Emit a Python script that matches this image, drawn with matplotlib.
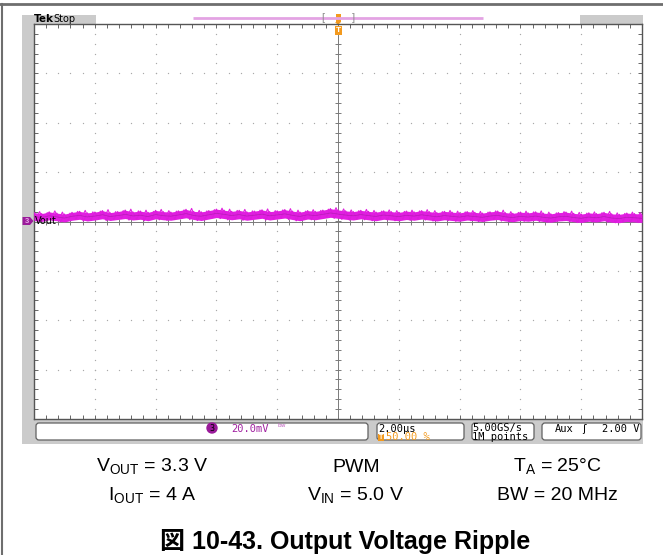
import numpy as np
import matplotlib
matplotlib.use('Agg')
import matplotlib.pyplot as plt
from matplotlib.patches import Rectangle, FancyBboxPatch, Circle, Polygon

plt.rcParams['font.family'] = ['Liberation Sans', 'Noto Sans CJK JP', 'DejaVu Sans']
plt.rcParams['mathtext.fontset'] = 'custom'
plt.rcParams['mathtext.rm'] = 'Liberation Sans'

# scope settings (graticule is 10 x 8 divisions)
volts_per_div = 20.0   # mV/div
n_hdiv = 10
n_vdiv = 8

# Vout ripple band, upper / lower edge in mV, one value every 1/8 division
vout_hi = [3.6, 3.2, 3.9, 3.4, 3.0, 3.7, 4.1, 3.5, 3.8, 4.4, 3.6, 4.0, 4.6, 3.9, 4.2, 3.7,
           4.5, 4.0, 3.8, 4.3, 4.9, 4.1, 3.9, 4.4, 5.0, 4.6, 4.1, 4.5, 3.9, 4.2, 4.7, 4.0,
           4.3, 4.8, 4.2, 3.8, 4.4, 4.1, 4.6, 5.2, 4.7, 4.3, 4.0, 4.5, 4.1, 3.8, 4.3, 4.0,
           3.7, 4.2, 3.9, 4.4, 4.0, 3.6, 4.1, 3.8, 3.5, 4.0, 3.7, 3.4, 3.9, 4.2, 3.6, 3.3,
           3.8, 3.5, 3.9, 3.4, 3.1, 3.6, 3.8, 3.3, 3.0, 3.5, 3.2, 3.7, 3.1, 2.9, 3.4, 3.2, 3.0]
vout_lo = [0.4, 0.0, 0.7, 0.3, -0.2, 0.5, 0.9, 0.2, 0.6, 1.1, 0.4, 0.8, 1.2, 0.6, 0.9, 0.3,
           1.1, 0.7, 0.5, 1.0, 1.5, 0.8, 0.4, 1.0, 1.6, 1.2, 0.7, 1.1, 0.5, 0.9, 1.3, 0.6,
           1.0, 1.4, 0.8, 0.3, 1.0, 0.7, 1.2, 1.7, 1.3, 0.9, 0.6, 1.1, 0.7, 0.3, 0.9, 0.6,
           0.3, 0.8, 0.5, 1.0, 0.6, 0.2, 0.7, 0.4, 0.1, 0.6, 0.3, 0.0, 0.5, 0.8, 0.2, -0.1,
           0.4, 0.1, 0.5, 0.0, -0.3, 0.2, 0.4, -0.1, -0.4, 0.1, -0.2, 0.3, -0.3, -0.5, 0.0, -0.2, -0.4]

caption_row1 = [r'V$_{\mathregular{OUT}}$ = 3.3 V', 'PWM', r'T$_{\mathregular{A}}$ = 25°C']
caption_row2 = [r'I$_{\mathregular{OUT}}$ = 4 A', r'V$_{\mathregular{IN}}$ = 5.0 V', 'BW = 20 MHz']
title = '図 10-43. Output Voltage Ripple'

W, H = 663, 555
fig = plt.figure(figsize=(W / 100, H / 100), dpi=100)


def pixel_axes(zorder):
    a = fig.add_axes([0, 0, 1, 1], zorder=zorder)
    a.set_xlim(0, W)
    a.set_ylim(H, 0)
    a.axis('off')
    a.patch.set_alpha(0)
    return a


# background axes in pixel units (y down)
bg = pixel_axes(0)

gray = '#cbcbcb'
# outer frame
bg.plot([0, W], [3.5, 3.5], color='#6e6e6e', lw=2)
bg.plot([1.5, 1.5], [3.5, H], color='#6e6e6e', lw=1.5)

# scope screen gray parts
bg.add_patch(Rectangle((22, 15), 12, 429, color=gray, lw=0))
bg.add_patch(Rectangle((22, 15), 74, 9, color=gray, lw=0))
bg.add_patch(Rectangle((580, 15), 63, 9, color=gray, lw=0))
bg.add_patch(Rectangle((22, 419), 621, 25, color=gray, lw=0))

bg.text(34, 19.5, 'Tek', fontsize=7.5, fontweight='bold', va='center', ha='left',
        family='DejaVu Sans')
bg.text(53, 19.5, 'Stop', fontsize=7, va='center', ha='left', family='DejaVu Sans')

# record view line + trigger marker
bg.plot([193, 483], [18, 18], color='#e3a3e3', lw=2, solid_capstyle='butt')
bg.text(323, 18, '[', fontsize=8, color='#909090', va='center', ha='center')
bg.text(353, 18, ']', fontsize=8, color='#909090', va='center', ha='center')
bg.add_patch(Rectangle((335.5, 14), 5, 8, color='#f39a1e', lw=0))
bg.add_patch(Polygon([[335, 22], [341, 22], [338, 25]], color='#f39a1e', lw=0))

# status boxes
boxes = [(34, 370), (375, 466), (470, 536), (540, 643)]
for x0, x1 in boxes:
    bg.add_patch(FancyBboxPatch((x0 + 2, 423), x1 - x0 - 4, 17,
                                boxstyle='round,pad=0,rounding_size=3',
                                fc='white', ec='#606060', lw=0.9))
mono = 'DejaVu Sans Mono'
bg.add_patch(Circle((212, 428), 5, color='#9a1a9a'))
bg.text(212, 428.3, '3', fontsize=6, color='black', va='center', ha='center', family=mono)
bg.text(231, 428.5, '20.0mV', fontsize=7.5, color='#a020a0', va='center', ha='left', family=mono)
bg.text(277, 427.5, 'ᵇʷ', fontsize=6.5, color='#c060c0', va='center', ha='left', family='DejaVu Sans')
bg.text(378, 428.5, '2.00µs', fontsize=7.5, va='center', ha='left', family=mono)
bg.add_patch(Rectangle((378, 433.5), 6, 7, color='#f39a1e', lw=0))
bg.text(381, 437.3, 'T', fontsize=5, color='white', fontweight='bold', va='center', ha='center')
bg.text(386, 437.5, '50.00 %', fontsize=7.5, color='#f39a1e', va='center', ha='left', family=mono)
bg.text(472, 428.5, '5.00GS/s', fontsize=7.5, va='center', ha='left', family=mono)
bg.text(472, 437.5, '1M points', fontsize=7.5, va='center', ha='left', family=mono)
bg.text(555, 428.5, 'Aux', fontsize=7.5, va='center', ha='left', family=mono)
bg.text(582, 428.5, 'ʃ', fontsize=7.5, va='center', ha='left', family='DejaVu Sans')
bg.text(640, 428.5, '2.00 V', fontsize=7.5, va='center', ha='right', family=mono)

# channel 3 marker
bg.add_patch(Polygon([[22.5, 217], [30, 217], [33.5, 221], [30, 225], [22.5, 225]],
                     color='#9a1a9a', lw=0))
bg.text(27, 221.3, '3', fontsize=5.5, color='#e8a8e8', va='center', ha='center',
        fontweight='bold')

# captions
cols = [152, 356, 557]
for cx, s in zip(cols, caption_row1):
    bg.text(cx, 467, s, fontsize=14, ha='center', va='center')
for cx, s in zip(cols, caption_row2):
    bg.text(cx, 496, s, fontsize=14, ha='center', va='center')
bg.text(345, 541, title, fontsize=18, fontweight='bold', ha='center', va='center')

# graticule axes
ax = fig.add_axes([34 / W, 1 - 419 / H, 608 / W, 395 / H], zorder=1)
ax.set_xlim(-n_hdiv / 2, n_hdiv / 2)
ax.set_ylim(-n_vdiv / 2, n_vdiv / 2)
ax.set_facecolor('white')
for sp in ax.spines.values():
    sp.set_color('#555555')
    sp.set_linewidth(1)
ax.set_xticks(np.arange(-5, 5.01, 1))
ax.set_yticks(np.arange(-4, 4.01, 1))
ax.set_xticks(np.arange(-5, 5.01, 0.2), minor=True)
ax.set_yticks(np.arange(-4, 4.01, 0.2), minor=True)
ax.tick_params(which='both', direction='in', length=3, width=0.7, color='#666666',
               top=True, right=True, labelbottom=False, labelleft=False)

# dotted grid
dot_col = '#a8a8a8'
for gx in range(-4, 5):
    if gx == 0:
        continue
    yy = np.arange(-4, 4.01, 0.2)
    ax.scatter(np.full_like(yy, gx), yy, s=0.9, color=dot_col, lw=0)
for gy in range(-3, 4):
    if gy == 0:
        continue
    xx = np.arange(-5, 5.01, 0.2)
    ax.scatter(xx, np.full_like(xx, gy), s=0.9, color=dot_col, lw=0)

# center crosshair with ticks
ax.axhline(0, color='#7a7a7a', lw=0.7)
ax.axvline(0, color='#7a7a7a', lw=0.7)
tx = np.arange(-5, 5.01, 0.2)
ty = np.arange(-4, 4.01, 0.2)
ax.plot(tx, np.zeros_like(tx), ls='none', marker='|', ms=4, mew=0.7, color='#7a7a7a')
ax.plot(np.zeros_like(ty), ty, ls='none', marker='_', ms=4, mew=0.7, color='#7a7a7a')

# trace
hi = np.array(vout_hi) / volts_per_div
lo = np.array(vout_lo) / volts_per_div
t = np.linspace(-5, 5, len(vout_hi))
ax.fill_between(t, lo, hi, color='#e21ee2', lw=0, zorder=3)
# ragged edges: zigzag between the upper and lower edge
zx = np.empty(2 * len(t) - 1)
zy = np.empty(2 * len(t) - 1)
zx[0::2] = t
zy[0::2] = hi
zx[1::2] = (t[:-1] + t[1:]) / 2
zy[1::2] = lo[1:]
ax.plot(zx, zy, color='#dc1cdc', lw=0.9, zorder=4)
zy2 = np.empty_like(zy)
zy2[0::2] = lo
zy2[1::2] = hi[:-1]
ax.plot(zx + 0.03, zy2 + 0.02, color='#e020e0', lw=0.8, zorder=4)
ax.plot(zx, (zy + zy2) / 2, color='#8c1a8c', lw=0.5, alpha=0.5, zorder=4)

# overlay: items drawn over the graticule
ov = pixel_axes(2)
ov.text(35, 221.5, 'Vout', fontsize=7, va='center', ha='left', family='DejaVu Sans')
ov.add_patch(Rectangle((334.5, 26), 7.5, 9, color='#f39a1e', lw=0))
ov.text(338.2, 30.5, 'T', fontsize=6, color='white', fontweight='bold',
        va='center', ha='center')

fig.savefig('out.png', dpi=100)
